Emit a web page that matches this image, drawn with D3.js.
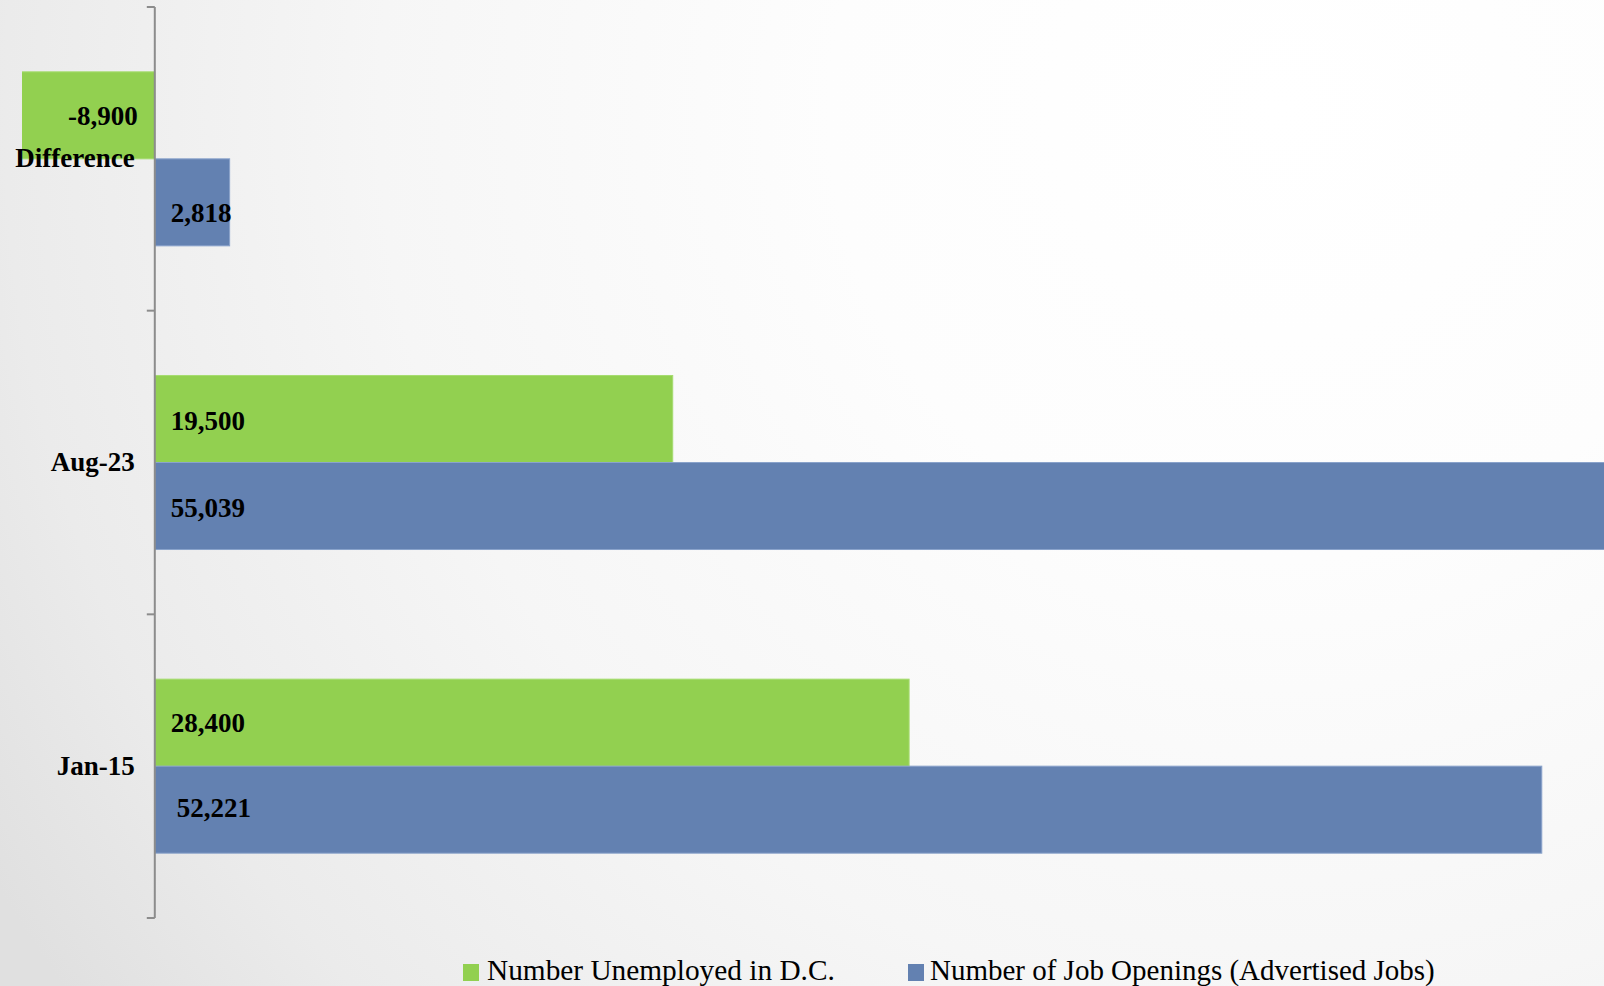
<!DOCTYPE html>
<html>
<head>
<meta charset="utf-8">
<script src="https://cdn.jsdelivr.net/npm/d3@7"></script>
<style>
  html, body { margin: 0; padding: 0; overflow: hidden; background: #fff; }
  svg { display: block; }
</style>
</head>
<body>
<svg id="chart" width="1604" height="986"></svg>
<script>
// ---- data ----
const categories = ["Difference", "Aug-23", "Jan-15"];
const seriesNames = ["Number Unemployed in D.C.", "Number of Job Openings (Advertised Jobs)"];
const unemployed = [-8900, 19500, 28400];
const jobOpenings = [2818, 55039, 52221];
const seriesColors = ["#92D050", "#6381B1"];
const seriesStroke = ["#a6dc70", "#8aa3cb"];

const W = 1604, H = 986;
const svg = d3.select("#chart");

// background gradient
const defs = svg.append("defs");
const rg = defs.append("radialGradient").attr("id", "bg")
  .attr("gradientUnits", "userSpaceOnUse")
  .attr("cx", 1280).attr("cy", 110).attr("r", 1500);
rg.append("stop").attr("offset", "0%").attr("stop-color", "#ffffff");
rg.append("stop").attr("offset", "30%").attr("stop-color", "#fdfdfd");
rg.append("stop").attr("offset", "60%").attr("stop-color", "#f6f6f6");
rg.append("stop").attr("offset", "85%").attr("stop-color", "#ebebeb");
rg.append("stop").attr("offset", "100%").attr("stop-color", "#e0e0e0");
svg.append("rect").attr("width", W).attr("height", H).attr("fill", "url(#bg)");

// scales
const x = d3.scaleLinear().domain([-5000, 60000]).range([22, 22 + 65000 * 0.02656]);
const y0 = d3.scaleBand().domain(categories).range([7, 918]).paddingInner(0).paddingOuter(0);
const y1 = d3.scaleBand().domain(seriesNames).range([0, y0.step()]).paddingInner(0).paddingOuter(0.745);

defs.append("clipPath").attr("id", "plotClip")
  .append("rect").attr("x", x(-5000)).attr("y", 0).attr("width", 3000).attr("height", H);

const rows = categories.map((c, i) => ({
  cat: c,
  vals: [
    { s: seriesNames[0], v: unemployed[i], k: 0 },
    { s: seriesNames[1], v: jobOpenings[i], k: 1 }
  ]
}));

const fmt = d3.formatLocale({ decimal: ".", thousands: ",", grouping: [3], currency: ["$", ""], minus: "-" }).format(",");
const plot = svg.append("g").attr("clip-path", "url(#plotClip)");
const groups = plot.selectAll("g.grp").data(rows).join("g")
  .attr("class", "grp")
  .attr("transform", d => `translate(0,${y0(d.cat)})`);

groups.selectAll("rect").data(d => d.vals).join("rect")
  .attr("x", d => x(Math.min(0, d.v)))
  .attr("width", d => Math.abs(x(d.v) - x(0)))
  .attr("y", d => y1(d.s))
  .attr("height", y1.bandwidth())
  .attr("fill", d => seriesColors[d.k])
  .attr("stroke", d => seriesStroke[d.k])
  .attr("stroke-width", 1);

// data labels (inside base), with small manual nudges as in the original
const nudge = { "Difference|1": [0, 10], "Jan-15|1": [6, -2], "Aug-23|0": [0, 2], "Aug-23|1": [0, 2] };
const labels = svg.append("g")
  .attr("font-family", "'Liberation Serif', 'Times New Roman', serif")
  .attr("font-weight", "bold").attr("font-size", 27).attr("fill", "#000");
rows.forEach(r => {
  r.vals.forEach(d => {
    const n = nudge[r.cat + "|" + d.k] || [0, 0];
    const yc = y0(r.cat) + y1(d.s) + y1.bandwidth() / 2;
    labels.append("text")
      .attr("x", (d.v < 0 ? x(0) - 17 : x(0) + 16) + n[0])
      .attr("y", yc + n[1])
      .attr("dy", "0.35em")
      .attr("text-anchor", d.v < 0 ? "end" : "start")
      .text(fmt(d.v));
  });
});

// category axis
const axis = d3.axisLeft(y0).tickSize(0).tickPadding(20);
const gAxis = svg.append("g").attr("transform", `translate(${x(0)},0)`).call(axis);
gAxis.select(".domain").remove();
gAxis.selectAll("text")
  .attr("font-family", "'Liberation Serif', 'Times New Roman', serif")
  .attr("font-weight", "bold").attr("font-size", 27).attr("fill", "#000");
gAxis.append("line").attr("x1", 0).attr("x2", 0).attr("y1", 7).attr("y2", 918)
  .attr("stroke", "#8c8c8c").attr("stroke-width", 2);
const tickYs = categories.map(c => y0(c)).concat([y0.range()[1]]);
gAxis.selectAll("line.tk").data(tickYs).join("line").attr("class", "tk")
  .attr("x1", -8).attr("x2", 0).attr("y1", d => d).attr("y2", d => d)
  .attr("stroke", "#8c8c8c").attr("stroke-width", 2);

// legend
const legendPos = [{ sx: 463, tx: 487, w: 348 }, { sx: 908, tx: 930, w: 505 }];
const leg = svg.append("g");
seriesNames.forEach((n, i) => {
  leg.append("rect").attr("x", legendPos[i].sx).attr("y", 964).attr("width", 16).attr("height", 17)
    .attr("fill", seriesColors[i]);
  const t = leg.append("text").attr("x", legendPos[i].tx).attr("y", 980)
    .attr("font-family", "'Liberation Serif', 'Times New Roman', serif")
    .attr("font-size", 27).attr("fill", "#000").text(n);
  const len = t.node().getComputedTextLength();
  t.attr("font-size", 27 * legendPos[i].w / len);
});
</script>
</body>
</html>
